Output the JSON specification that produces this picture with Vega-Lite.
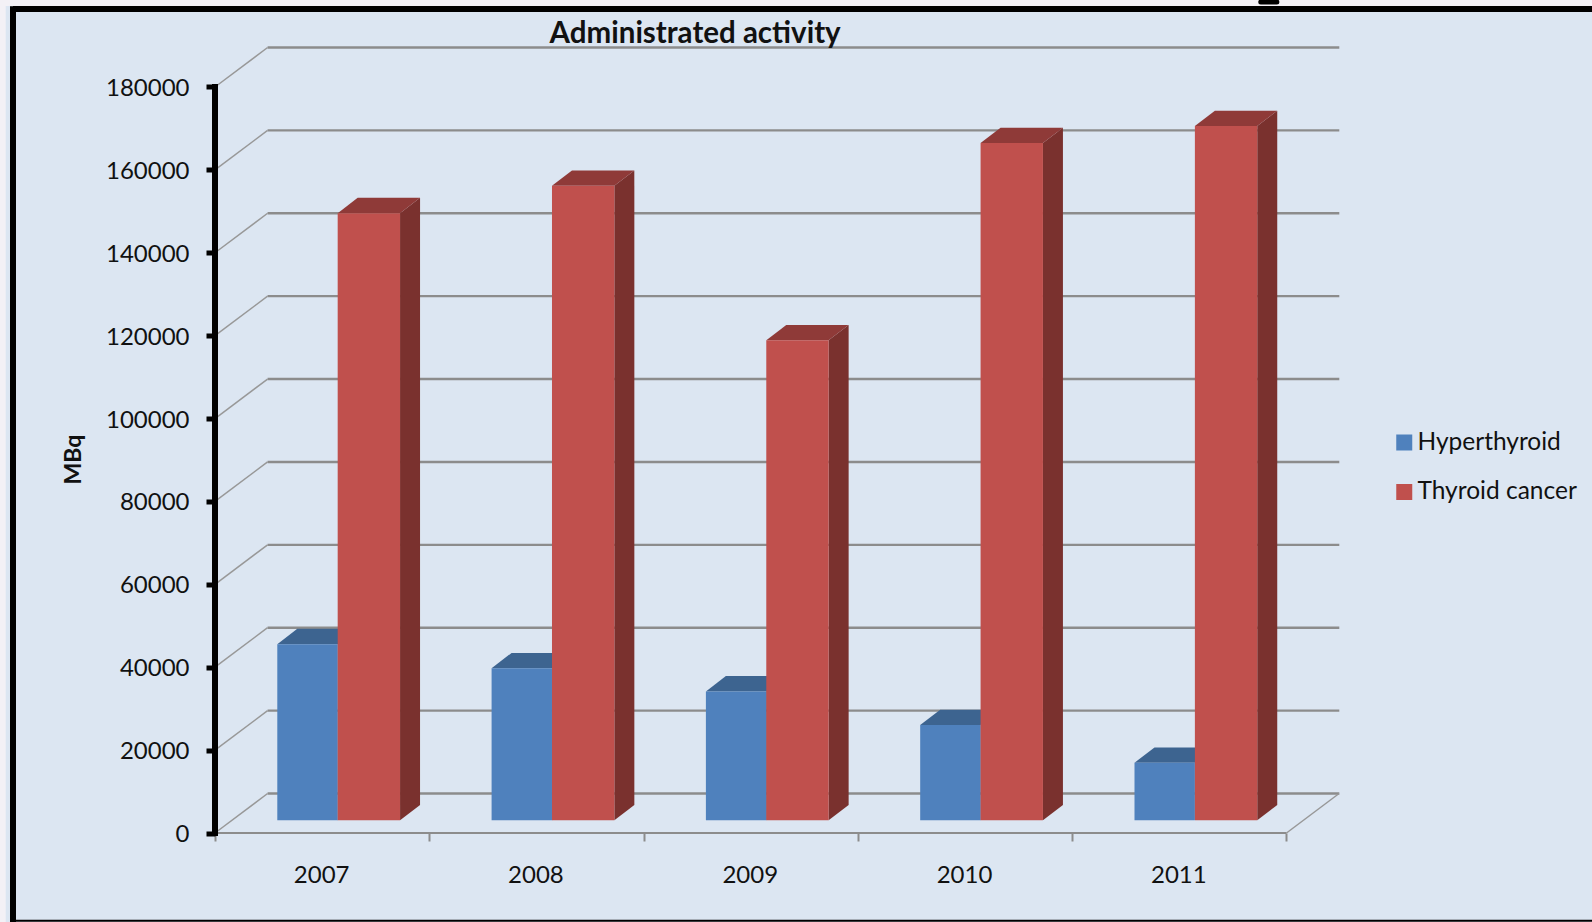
{
  "$schema": "https://vega.github.io/schema/vega-lite/v6.json",
  "description": "Administered activity per year, drawn as an oblique-projection bar chart. Side and top faces are derived from each bar's value.",
  "width": 1124.3,
  "height": 785.5,
  "autosize": "none",
  "padding": {"left": 215, "top": 47.5, "right": 252.7, "bottom": 89},
  "background": "#DCE6F2",
  "view": {"stroke": null},
  "title": {
    "text": "Administrated activity",
    "font": "Lato", "fontSize": 29.5, "fontWeight": "bold", "color": "#111111",
    "anchor": "middle", "frame": "group", "dx": -82, "dy": 55, "offset": 0
  },
  "config": {"font": "Lato"},
  "datasets": {
    "activity": [
      {"year": 2007, "series": "Hyperthyroid", "value": 42500},
      {"year": 2007, "series": "Thyroid cancer", "value": 146500},
      {"year": 2008, "series": "Hyperthyroid", "value": 36700},
      {"year": 2008, "series": "Thyroid cancer", "value": 153100},
      {"year": 2009, "series": "Hyperthyroid", "value": 31100},
      {"year": 2009, "series": "Thyroid cancer", "value": 115800},
      {"year": 2010, "series": "Hyperthyroid", "value": 23000},
      {"year": 2010, "series": "Thyroid cancer", "value": 163400},
      {"year": 2011, "series": "Hyperthyroid", "value": 13900},
      {"year": 2011, "series": "Thyroid cancer", "value": 167500}
    ],
    "ticks": [
      {"tick": 0}, {"tick": 20000}, {"tick": 40000}, {"tick": 60000}, {"tick": 80000},
      {"tick": 100000}, {"tick": 120000}, {"tick": 140000}, {"tick": 160000}, {"tick": 180000}
    ],
    "single": [{"floor": 0, "back": 9530, "axisTop": 180000}]
  },
  "layer": [
    {
      "data": {"name": "ticks"},
      "mark": {"type": "rule", "color": "#8C8C8C", "strokeWidth": 2.4, "yOffset": -39.5},
      "encoding": {
        "x": {"datum": 2007.2454, "type": "quantitative", "scale": {"domain": [2007, 2012.2464], "nice": false, "zero": false},
          "axis": {
            "values": [2007, 2007.5, 2008, 2008.5, 2009, 2009.5, 2010, 2010.5, 2011, 2011.5, 2012],
            "title": null, "grid": false, "domain": false,
            "tickColor": "#8C8C8C", "tickWidth": 2, "tickSize": 8,
            "tickOpacity": {"condition": {"test": "datum.value % 1 != 0", "value": 0}, "value": 1},
            "labelExpr": "datum.value % 1 != 0 ? floor(datum.value) : ''",
            "labelFont": "Lato", "labelFontSize": 24, "labelColor": "#111111",
            "labelBaseline": "middle", "labelPadding": 34, "labelOffset": -1, "labelOverlap": false, "labelFlush": false
          }},
        "x2": {"datum": 2012.2464},
        "y": {"field": "tick", "type": "quantitative", "scale": {"domain": [0, 189528], "nice": false, "zero": false},
          "axis": {
            "values": [0, 20000, 40000, 60000, 80000, 100000, 120000, 140000, 160000, 180000],
            "format": "d", "grid": false, "domain": false,
            "tickColor": "#000000", "tickWidth": 5, "tickSize": 9,
            "labelFont": "Lato", "labelFontSize": 24, "labelColor": "#111111", "labelPadding": 17, "labelOffset": 1.5,
            "labelOverlap": false, "labelFlush": false,
            "title": "MBq", "titleFont": "Lato", "titleFontSize": 23, "titleFontWeight": "bold", "titleColor": "#111111",
            "titleAngle": 270, "titleAlign": "center", "titleBaseline": "middle", "titleX": -142, "titleY": 411.5
          }}
      }
    },
    {
      "data": {"name": "ticks"},
      "transform": [{"calculate": "datum.tick + 9530", "as": "back"}],
      "mark": {"type": "rule", "color": "#989898", "strokeWidth": 1.5},
      "encoding": {
        "x": {"datum": 2007, "type": "quantitative", "scale": {"domain": [2007, 2012.2464], "nice": false, "zero": false}},
        "x2": {"datum": 2007.2454},
        "y": {"field": "tick", "type": "quantitative", "scale": {"domain": [0, 189528], "nice": false, "zero": false}},
        "y2": {"field": "back"}
      }
    },
    {
      "data": {"name": "single"},
      "mark": {"type": "rule", "color": "#989898", "strokeWidth": 1.5},
      "encoding": {
        "x": {"datum": 2012, "type": "quantitative", "scale": {"domain": [2007, 2012.2464], "nice": false, "zero": false}},
        "x2": {"datum": 2012.2454},
        "y": {"field": "floor", "type": "quantitative", "scale": {"domain": [0, 189528], "nice": false, "zero": false}},
        "y2": {"field": "back"}
      }
    },
    {
      "data": {"name": "single"},
      "mark": {"type": "rule", "color": "#8C8C8C", "strokeWidth": 2},
      "encoding": {
        "x": {"datum": 2007, "type": "quantitative", "scale": {"domain": [2007, 2012.2464], "nice": false, "zero": false}},
        "x2": {"datum": 2012},
        "y": {"field": "floor", "type": "quantitative", "scale": {"domain": [0, 189528], "nice": false, "zero": false}}
      }
    },
    {
      "data": {"name": "activity"},
      "transform": [
        {"calculate": "datum.year + (datum.series === 'Hyperthyroid' ? 0.5725 : 0.8635)", "as": "right"},
        {"calculate": "3064 + datum.value", "as": "top"},
        {"calculate": "[0, 1]", "as": "t"},
        {"flatten": ["t"]},
        {"calculate": "datum.right + datum.t * 0.0933", "as": "sx"},
        {"calculate": "3064 + datum.t * 3692", "as": "sy"},
        {"calculate": "datum.top + datum.t * 3692", "as": "sy2"},
        {"calculate": "datum.year + datum.series", "as": "bar"}
      ],
      "mark": {"type": "area", "orient": "vertical", "line": false, "opacity": 1},
      "encoding": {
        "x": {"field": "sx", "type": "quantitative", "scale": {"domain": [2007, 2012.2464], "nice": false, "zero": false}},
        "y": {"field": "sy", "type": "quantitative", "stack": null, "scale": {"domain": [0, 189528], "nice": false, "zero": false}},
        "y2": {"field": "sy2"},
        "detail": {"field": "bar"},
        "fill": {"condition": {"test": "datum.series === 'Hyperthyroid'", "value": "#3A5F8C"}, "value": "#7A312E"}
      }
    },
    {
      "data": {"name": "activity"},
      "transform": [
        {"calculate": "datum.year + (datum.series === 'Hyperthyroid' ? 0.2907 : 0.5725)", "as": "left"},
        {"calculate": "datum.year + (datum.series === 'Hyperthyroid' ? 0.5725 : 0.8635)", "as": "right"},
        {"calculate": "3064 + datum.value", "as": "top"},
        {"calculate": "[0, 1, 2, 3]", "as": "t"},
        {"flatten": ["t"]},
        {"calculate": "datum.t === 0 ? datum.left : datum.t === 1 ? datum.left + 0.0933 : datum.t === 2 ? datum.right : datum.right + 0.0933", "as": "tx"},
        {"calculate": "datum.t === 3 ? datum.top + 3692 : datum.top", "as": "ty"},
        {"calculate": "datum.t === 0 ? datum.top : datum.top + 3692", "as": "ty2"},
        {"calculate": "datum.year + datum.series", "as": "bar"}
      ],
      "mark": {"type": "area", "orient": "vertical", "line": false, "opacity": 1},
      "encoding": {
        "x": {"field": "tx", "type": "quantitative", "scale": {"domain": [2007, 2012.2464], "nice": false, "zero": false}},
        "y": {"field": "ty", "type": "quantitative", "stack": null, "scale": {"domain": [0, 189528], "nice": false, "zero": false}},
        "y2": {"field": "ty2"},
        "detail": {"field": "bar"},
        "fill": {"condition": {"test": "datum.series === 'Hyperthyroid'", "value": "#3D6490"}, "value": "#8F3A38"}
      }
    },
    {
      "data": {"name": "activity"},
      "transform": [
        {"calculate": "datum.year + (datum.series === 'Hyperthyroid' ? 0.2907 : 0.5725)", "as": "left"},
        {"calculate": "datum.year + (datum.series === 'Hyperthyroid' ? 0.5725 : 0.8635)", "as": "right"},
        {"calculate": "3064 + datum.value", "as": "top"},
        {"calculate": "3064", "as": "base"}
      ],
      "mark": {"type": "rect", "opacity": 1},
      "encoding": {
        "x": {"field": "left", "type": "quantitative", "scale": {"domain": [2007, 2012.2464], "nice": false, "zero": false}},
        "x2": {"field": "right"},
        "y": {"field": "base", "type": "quantitative", "scale": {"domain": [0, 189528], "nice": false, "zero": false}},
        "y2": {"field": "top"},
        "color": {
          "field": "series", "type": "nominal",
          "scale": {"domain": ["Hyperthyroid", "Thyroid cancer"], "range": ["#4F81BD", "#C0504D"]},
          "legend": {
            "title": null, "orient": "none", "legendX": 1177, "legendY": 383,
            "padding": 0, "symbolType": "square", "symbolSize": 256, "symbolStrokeWidth": 0,
            "labelFont": "Lato", "labelFontSize": 24.5, "labelColor": "#111111", "labelOffset": 1,
            "clipHeight": 24, "rowPadding": 24.5
          }
        }
      }
    },
    {
      "data": {"name": "single"},
      "mark": {"type": "rule", "color": "#000000", "strokeWidth": 6, "strokeCap": "square"},
      "encoding": {
        "x": {"datum": 2007, "type": "quantitative", "scale": {"domain": [2007, 2012.2464], "nice": false, "zero": false}},
        "y": {"field": "floor", "type": "quantitative", "scale": {"domain": [0, 189528], "nice": false, "zero": false}},
        "y2": {"field": "axisTop"}
      }
    },
    {
      "data": {"name": "single"},
      "mark": {"type": "rule", "color": "#F3F1F6", "strokeWidth": 6},
      "encoding": {
        "x": {"datum": 2006, "type": "quantitative", "scale": {"domain": [2007, 2012.2464], "nice": false, "zero": false}},
        "x2": {"datum": 2014},
        "y": {"datum": 200280, "type": "quantitative", "scale": {"domain": [0, 189528], "nice": false, "zero": false}}
      }
    },
    {
      "data": {"name": "single"},
      "mark": {"type": "rule", "color": "#F3F1F6", "strokeWidth": 10},
      "encoding": {
        "x": {"datum": 2006.0, "type": "quantitative", "scale": {"domain": [2007, 2012.2464], "nice": false, "zero": false}},
        "y": {"datum": 201000, "type": "quantitative", "scale": {"domain": [0, 189528], "nice": false, "zero": false}},
        "y2": {"datum": -22000}
      }
    },
    {
      "data": {"name": "single"},
      "mark": {"type": "rule", "color": "#000000", "strokeWidth": 6},
      "encoding": {
        "x": {"datum": 2006.0574, "type": "quantitative", "scale": {"domain": [2007, 2012.2464], "nice": false, "zero": false}},
        "x2": {"datum": 2014},
        "y": {"datum": 198830, "type": "quantitative", "scale": {"domain": [0, 189528], "nice": false, "zero": false}}
      }
    },
    {
      "data": {"name": "single"},
      "mark": {"type": "rule", "color": "#000000", "strokeWidth": 6},
      "encoding": {
        "x": {"datum": 2006.0574, "type": "quantitative", "scale": {"domain": [2007, 2012.2464], "nice": false, "zero": false}},
        "y": {"datum": 199500, "type": "quantitative", "scale": {"domain": [0, 189528], "nice": false, "zero": false}},
        "y2": {"datum": -22000}
      }
    },
    {
      "data": {"name": "single"},
      "mark": {"type": "rule", "color": "#000000", "strokeWidth": 2},
      "encoding": {
        "x": {"datum": 2006.0574, "type": "quantitative", "scale": {"domain": [2007, 2012.2464], "nice": false, "zero": false}},
        "x2": {"datum": 2014},
        "y": {"datum": -21200, "type": "quantitative", "scale": {"domain": [0, 189528], "nice": false, "zero": false}}
      }
    },
    {
      "data": {"name": "single"},
      "mark": {"type": "rule", "color": "#000000", "strokeWidth": 5, "strokeCap": "round"},
      "encoding": {
        "x": {"datum": 2011.88, "type": "quantitative", "scale": {"domain": [2007, 2012.2464], "nice": false, "zero": false}},
        "x2": {"datum": 2011.955},
        "y": {"datum": 200500, "type": "quantitative", "scale": {"domain": [0, 189528], "nice": false, "zero": false}}
      }
    }
  ]
}
